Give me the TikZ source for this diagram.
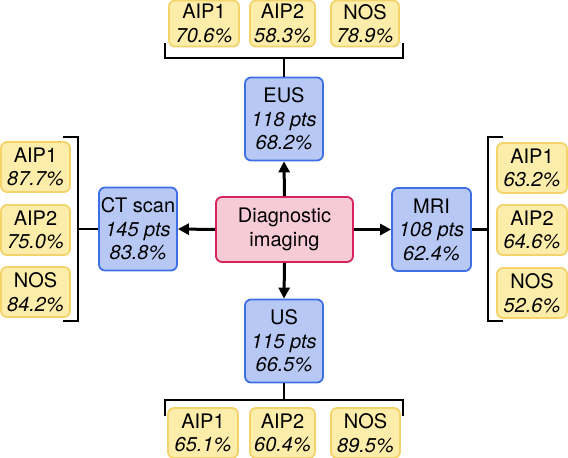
\documentclass[tikz,border=0pt]{standalone}
\usepackage{fontspec}
\setmainfont{TeX Gyre Heros}
\usetikzlibrary{arrows.meta}
\definecolor{yfill}{HTML}{FCEDAB}
\definecolor{yline}{HTML}{F3D36A}
\definecolor{bfill}{HTML}{B7C8F4}
\definecolor{bline}{HTML}{3D6FE6}
\definecolor{pfill}{HTML}{F6CAD6}
\definecolor{pline}{HTML}{D7245C}
\definecolor{txt}{HTML}{000000}
\begin{document}
\begin{tikzpicture}[x=1pt,y=-1pt,
  base/.style={rectangle, rounded corners=6pt, line width=1.8pt, inner sep=0pt, align=center, text=txt, font=\fontsize{20}{23.5}\selectfont},
  ybox/.style={base, draw=yline, fill=yfill, minimum height=46pt},
  lybox/.style={ybox, minimum width=69pt, minimum height=50pt},
  bbox/.style={base, draw=bline, fill=bfill, minimum width=78pt, minimum height=83pt},
  pbox/.style={base, draw=pline, fill=pfill, minimum width=137pt, minimum height=65pt},
  bracket/.style={line width=2.4pt, draw=black},
  arr/.style={line width=3pt, -{Triangle[length=11pt,width=11pt]}}
]
\useasboundingbox (0,0) rectangle (568,458);
\clip (0,0) rectangle (568,458);
\fill[white] (0,0) rectangle (568,458);

% center
\node[pbox] (dx) at (284.5,229.5) {Diagnostic\\imaging};

% blue boxes
\node[bbox] (eus) at (284,119) {EUS\\\textit{118 pts}\\\textit{68.2\%}};
\node[bbox] (us) at (284,341) {US\\\textit{115 pts}\\\textit{66.5\%}};
\node[bbox] (ct) at (138,229) {CT scan\\\textit{145 pts}\\\textit{83.8\%}};
\node[bbox, minimum width=79pt] (mri) at (431.5,229.5) {MRI\\\textit{108 pts}\\\textit{62.4\%}};

% arrows
\draw[arr] (dx.north) -- (eus.south);
\draw[arr] (dx.south) -- (us.north);
\draw[arr] (dx.west) -- (ct.east);
\draw[arr] (dx.east) -- (mri.west);

% top yellow
\node[ybox, minimum width=70pt] (t1) at (204,23.5) {AIP1\\\textit{70.6\%}};
\node[ybox, minimum width=65pt] (t2) at (282.5,23.5) {AIP2\\\textit{58.3\%}};
\node[ybox, minimum width=68pt] (t3) at (365,23.5) {NOS\\\textit{78.9\%}};
% bottom yellow
\node[ybox, minimum width=70pt, minimum height=50pt] (b1) at (203,433) {AIP1\\\textit{65.1\%}};
\node[ybox, minimum width=65pt, minimum height=50pt] (b2) at (282.5,433) {AIP2\\\textit{60.4\%}};
\node[ybox, minimum width=69pt, minimum height=50pt] (b3) at (365.5,433) {NOS\\\textit{89.5\%}};
% left yellow
\node[lybox] (l1) at (35.5,167) {AIP1\\\textit{87.7\%}};
\node[lybox] (l2) at (35.5,230) {AIP2\\\textit{75.0\%}};
\node[lybox] (l3) at (35.5,292) {NOS\\\textit{84.2\%}};
% right yellow
\node[lybox, minimum width=70pt] (r1) at (532,168) {AIP1\\\textit{63.2\%}};
\node[lybox, minimum width=70pt] (r2) at (532,230) {AIP2\\\textit{64.6\%}};
\node[lybox, minimum width=70pt] (r3) at (532,293) {NOS\\\textit{52.6\%}};

% brackets
\coordinate (tj) at (284,58);
\draw[bracket] (165,43) -- (165,58) -- (403,58) -- (403,43);
\draw[bracket] (eus.north) -- (tj);

\coordinate (bj) at (284,400);
\draw[bracket] (165,416) -- (165,400) -- (403,400) -- (403,416);
\draw[bracket] (us.south) -- (bj);

\coordinate (lj) at (78,229);
\draw[bracket] (63,137) -- (78,137) -- (78,321) -- (63,321);
\draw[bracket] (ct.west) -- (lj);

\coordinate (rj) at (488,229.5);
\draw[bracket] (503,137) -- (488,137) -- (488,321) -- (503,321);
\draw[bracket] (mri.east) -- (rj);
\end{tikzpicture}
\end{document}
